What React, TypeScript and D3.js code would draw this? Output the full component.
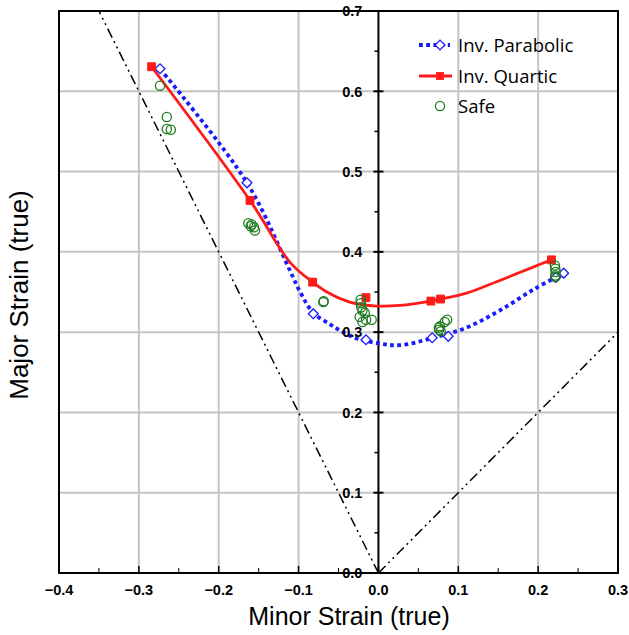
import React from "react";
import * as d3 from "d3";

// ---- Data ----
const parabolicMarkers: [number, number][] = [
  [-0.2735, 0.628], [-0.1646, 0.486], [-0.0816, 0.323], [-0.0156, 0.2905],
  [0.0673, 0.293], [0.0874, 0.2948], [0.222, 0.368], [0.232, 0.3735],
];
const parabolicCurve: [number, number][] = [
  [-0.2735, 0.628], [-0.1646, 0.486], [-0.1107, 0.3765], [-0.098, 0.35], [-0.0816, 0.324],
  [-0.061, 0.31], [-0.048, 0.302], [-0.027, 0.292], [0.002, 0.2857], [0.027, 0.2838],
  [0.0673, 0.2925], [0.11, 0.3056], [0.152, 0.327], [0.194, 0.353], [0.232, 0.3735],
];
const quarticMarkers: [number, number][] = [
  [-0.284, 0.6306], [-0.1608, 0.464], [-0.0824, 0.3623], [-0.0156, 0.343],
  [0.0657, 0.3387], [0.0778, 0.3412], [0.2167, 0.39],
];
const quarticCurve: [number, number][] = [
  [-0.284, 0.6306], [-0.1608, 0.464], [-0.1107, 0.387], [-0.0824, 0.3623], [-0.061, 0.348],
  [-0.036, 0.3375], [-0.002, 0.3325], [0.027, 0.3333], [0.0657, 0.3387], [0.0778, 0.3412],
  [0.1104, 0.3486], [0.152, 0.3644], [0.1937, 0.381], [0.2167, 0.39],
];
const safePoints: [number, number][] = [
  [-0.2735, 0.607], [-0.265, 0.568], [-0.265, 0.553], [-0.26, 0.552],
  [-0.163, 0.4357], [-0.1587, 0.434], [-0.1558, 0.4307], [-0.1546, 0.4266], [-0.16, 0.432],
  [-0.069, 0.3374], [-0.0685, 0.3385],
  [-0.0223, 0.3404], [-0.022, 0.336], [-0.0215, 0.331], [-0.02, 0.327], [-0.017, 0.324],
  [-0.0235, 0.319], [-0.0155, 0.3155], [-0.0085, 0.3155], [-0.02, 0.3126],
  [0.086, 0.3155], [0.083, 0.3126], [0.077, 0.3072], [0.076, 0.303], [0.078, 0.301], [0.0757, 0.3056],
  [0.221, 0.383], [0.2215, 0.379], [0.222, 0.375], [0.2215, 0.3706], [0.2215, 0.3686],
];
const xTicks = [-0.4, -0.3, -0.2, -0.1, 0.0, 0.1, 0.2, 0.3];
const yTicks = [0.0, 0.1, 0.2, 0.3, 0.4, 0.5, 0.6, 0.7];
const xMinorTicks = [-0.35, -0.25, -0.15, -0.05, 0.05, 0.15, 0.25];
const yMinorTicks = [0.05, 0.15, 0.25, 0.35, 0.45, 0.55, 0.65];
const seriesNames = ["Inv. Parabolic", "Inv. Quartic", "Safe"];
const xTitle = "Minor Strain (true)";
const yTitle = "Major Strain (true)";

const W = 629, H = 635;
const L = 59, R = 618, T = 11, B = 573;

export default function App() {
  const x = d3.scaleLinear().domain([-0.4, 0.3]).range([L, R]);
  const y = d3.scaleLinear().domain([0, 0.7]).range([B, T]);
  const line = d3.line<[number, number]>().x(d => x(d[0])).y(d => y(d[1])).curve(d3.curveCatmullRom.alpha(0.5));
  const diamond = d3.symbol().type(d3.symbolSquare).size(48)();
  const square = d3.symbol().type(d3.symbolSquare).size(62)();
  const blue = "#1a1aff";
  const red = "#ff1a1a";
  const green = "#1f7a1f";
  const fmt = d3.format(".1f");
  const tickFont = "'Liberation Sans', Arial, sans-serif";
  // dash-dot-dot reference lines: y = -2x (uniaxial) and y = x (biaxial)
  const uniaxial: [number, number][] = [[0, 0], [-0.35, 0.7]];
  const biaxial: [number, number][] = [[0, 0], [0.3, 0.3]];
  const straight = d3.line<[number, number]>().x(d => x(d[0])).y(d => y(d[1]));

  return (
    <svg width={W} height={H} style={{ position: "absolute", left: 0, top: 0, background: "#fff" }}>
      <rect x={0} y={0} width={W} height={H} fill="#fff" />
      {/* grid */}
      {xTicks.filter(t => t > -0.4 && t < 0.3 && Math.abs(t) > 1e-9).map(t => (
        <line key={"gx" + t} x1={x(t)} x2={x(t)} y1={T} y2={B} stroke="#c4c4c4" strokeWidth={2} />
      ))}
      {yTicks.filter(t => t > 0 && t < 0.7).map(t => (
        <line key={"gy" + t} x1={L} x2={R} y1={y(t)} y2={y(t)} stroke="#c4c4c4" strokeWidth={2} />
      ))}
      {/* reference lines */}
      <path d={straight(uniaxial)!} stroke="#000" strokeWidth={1.5} fill="none" strokeDasharray="10,4,2,4,2,4" />
      <path d={straight(biaxial)!} stroke="#000" strokeWidth={1.5} fill="none" strokeDasharray="10,4,2,4,2,4" />
      {/* frame */}
      <rect x={L} y={T} width={R - L} height={B - T} fill="none" stroke="#000" strokeWidth={2} />
      {/* y axis at x=0 */}
      <line x1={x(0)} x2={x(0)} y1={T} y2={B} stroke="#000" strokeWidth={2} />
      {yTicks.map(t => (
        <line key={"yt" + t} x1={x(0) - 5} x2={x(0) + 5} y1={y(t)} y2={y(t)} stroke="#000" strokeWidth={2} />
      ))}
      {yMinorTicks.map(t => (
        <line key={"ym" + t} x1={x(0) - 4} x2={x(0)} y1={y(t)} y2={y(t)} stroke="#000" strokeWidth={1.5} />
      ))}
      {xTicks.map(t => (
        <line key={"xt" + t} x1={x(t)} x2={x(t)} y1={B} y2={B - 7} stroke="#000" strokeWidth={1.5} />
      ))}
      {xMinorTicks.map(t => (
        <line key={"xm" + t} x1={x(t)} x2={x(t)} y1={B} y2={B - 5} stroke="#000" strokeWidth={1} />
      ))}
      {/* series */}
      <path d={line(parabolicCurve)!} stroke={blue} strokeWidth={3.8} fill="none" strokeDasharray="3.8,3.4" />
      <path d={line(quarticCurve)!} stroke={red} strokeWidth={2.8} fill="none" />
      {parabolicMarkers.map((d, i) => (
        <path key={"pm" + i} d={diamond} transform={`translate(${x(d[0])},${y(d[1])}) rotate(45)`} fill="#fff" stroke={blue} strokeWidth={1.3} />
      ))}
      {quarticMarkers.map((d, i) => (
        <path key={"qm" + i} d={square} transform={`translate(${x(d[0])},${y(d[1])})`} fill={red} stroke={red} strokeWidth={1} />
      ))}
      {safePoints.map((d, i) => (
        <circle key={"sp" + i} cx={x(d[0])} cy={y(d[1])} r={4.6} fill="none" stroke={green} strokeWidth={1.3} />
      ))}
      {/* tick labels */}
      {yTicks.map(t => (
        <text key={"yl" + t} x={x(0) - 16} y={y(t)} dy="0.36em" textAnchor="end" fontFamily={tickFont} fontWeight={700} fontSize={14.5}>{fmt(t)}</text>
      ))}
      {xTicks.map(t => (
        <text key={"xl" + t} x={x(t)} y={595} textAnchor="middle" fontFamily={tickFont} fontWeight={700} fontSize={14.5}>{fmt(t)}</text>
      ))}
      {/* axis titles */}
      <text x={349} y={625} textAnchor="middle" fontFamily={tickFont} fontSize={25}>{xTitle}</text>
      <text transform="translate(28,295) rotate(-90)" textAnchor="middle" fontFamily={tickFont} fontSize={26}>{yTitle}</text>
      {/* legend */}
      <g fontFamily="'Open Sans', 'Noto Sans', sans-serif" fontSize={18.5}>
        <line x1={419} x2={450} y1={45} y2={45} stroke={blue} strokeWidth={3.8} strokeDasharray="3.8,3.4" />
        <path d={diamond} transform={`translate(440,45) rotate(45)`} fill="#fff" stroke={blue} strokeWidth={1.3} />
        <text x={458} y={51.5}>{seriesNames[0]}</text>
        <line x1={419} x2={452} y1={76} y2={76} stroke={red} strokeWidth={2.8} />
        <path d={square} transform={`translate(440,76)`} fill={red} />
        <text x={458} y={82.5}>{seriesNames[1]}</text>
        <circle cx={440} cy={106} r={4.6} fill="none" stroke={green} strokeWidth={1.3} />
        <text x={458} y={112.5}>{seriesNames[2]}</text>
      </g>
    </svg>
  );
}
